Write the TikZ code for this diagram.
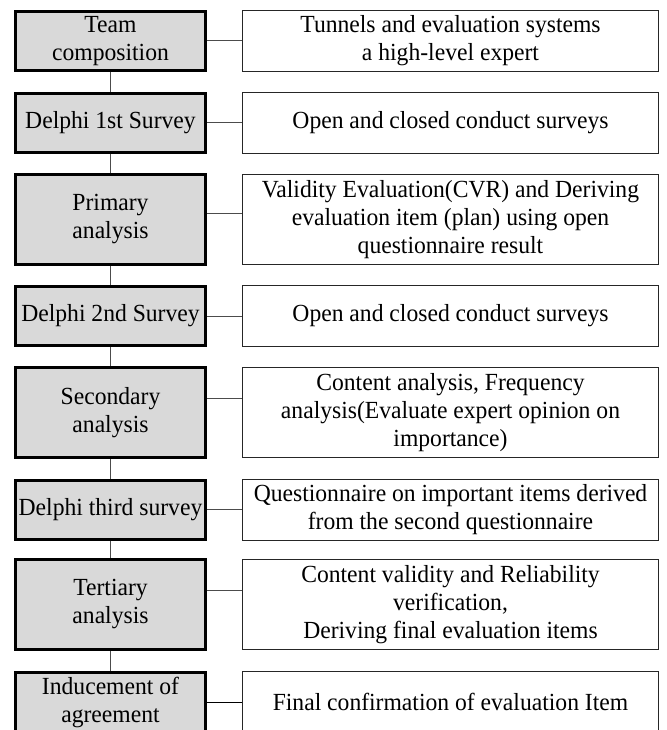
\documentclass[tikz,border=0pt]{standalone}
\usepackage{fontspec}
\setmainfont{Liberation Serif}[FakeStretch=0.96]

\begin{document}
\begin{tikzpicture}[
        x=1pt, y=-1pt,
        sbox/.style={rectangle, draw=black, fill=black!15, line width=3pt, minimum width=190pt, minimum height=59pt, inner sep=0pt, align=center, font=\fontsize{24.6}{28}\selectfont},
        dbox/.style={rectangle, draw=black!85, fill=white, line width=1pt, minimum width=416pt, minimum height=61pt, inner sep=0pt, align=center, font=\fontsize{24.6}{28}\selectfont},
        tall/.style={minimum height=90pt},
        link/.style={draw=black!70, line width=1pt}
    ]
        \clip (0, 0) rectangle (666, 730);
        \fill [white] (0, 0) rectangle (666, 730);

        % Etapas (columna izquierda)
        \node [sbox] (team) at (110.5, 41) {Team\\composition};
        \node [sbox] (first) at (110.5, 123) {Delphi 1st Survey};
        \node [sbox, tall] (primary) at (110.5, 219.5) {Primary\\analysis};
        \node [sbox] (second) at (110.5, 316) {Delphi 2nd Survey};
        \node [sbox, tall] (secondary) at (110.5, 412.5) {Secondary\\analysis};
        \node [sbox] (third) at (110.5, 509.5) {Delphi third survey};
        \node [sbox, tall] (tertiary) at (110.5, 604.5) {Tertiary\\analysis};
        \node [sbox] (agree) at (110.5, 702) {Inducement of\\agreement};

        % Descripciones (columna derecha)
        \node [dbox] (teamd) at (450.5, 41) {Tunnels and evaluation systems\\a high-level expert};
        \node [dbox] (firstd) at (450.5, 123) {Open and closed conduct surveys};
        \node [dbox, tall] (primaryd) at (450.5, 219.5) {Validity Evaluation(CVR) and Deriving\\evaluation item (plan) using open\\questionnaire result};
        \node [dbox] (secondd) at (450.5, 316) {Open and closed conduct surveys};
        \node [dbox, tall] (secondaryd) at (450.5, 412.5) {Content analysis, Frequency\\analysis(Evaluate expert opinion on\\importance)};
        \node [dbox] (thirdd) at (450.5, 509.5) {Questionnaire on important items derived\\from the second questionnaire};
        \node [dbox, tall] (tertiaryd) at (450.5, 604.5) {Content validity and Reliability\\verification,\\Deriving final evaluation items};
        \node [dbox] (agreed) at (450.5, 702) {Final confirmation of evaluation Item};

        % Secuencia vertical
        \draw [link] (team.south) -- (first.north);
        \draw [link] (first.south) -- (primary.north);
        \draw [link] (primary.south) -- (second.north);
        \draw [link] (second.south) -- (secondary.north);
        \draw [link] (secondary.south) -- (third.north);
        \draw [link] (third.south) -- (tertiary.north);
        \draw [link] (tertiary.south) -- (agree.north);

        % Enlaces horizontales
        \draw [link] (team.east) -- (teamd.west);
        \draw [link] (first.east) -- (firstd.west);
        \draw [link] ([yshift=6.5pt]primary.east) -- ([yshift=6.5pt]primaryd.west);
        \draw [link] (second.east) -- (secondd.west);
        \draw [link] ([yshift=14.5pt]secondary.east) -- ([yshift=14.5pt]secondaryd.west);
        \draw [link] (third.east) -- (thirdd.west);
        \draw [link] ([yshift=14.5pt]tertiary.east) -- ([yshift=14.5pt]tertiaryd.west);
        \draw [link, draw=black] (agree.east) -- (agreed.west);
    \end{tikzpicture}
\end{document}
